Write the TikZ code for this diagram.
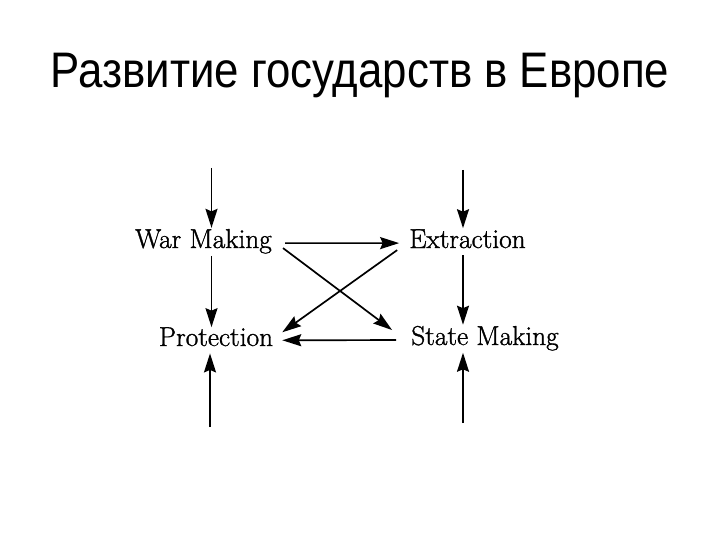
\documentclass[tikz,border=0pt]{standalone}
\usepackage{fontspec}
\setmainfont{Latin Modern Roman}
\newfontfamily\titlefont{Liberation Sans}
\newfontfamily\diagfont[FakeBold=1.2]{Latin Modern Roman}
\usetikzlibrary{arrows.meta}
\begin{document}
\begin{tikzpicture}[x=1pt,y=-1pt,
  lbl/.style={inner sep=0pt,anchor=base,font=\diagfont\fontsize{27.3}{32}\selectfont},
  arr/.style={line width=1.7pt,-{Stealth[length=19pt,width=12pt,inset=2.5pt]}}]
\useasboundingbox (0,0) rectangle (720,540);
\node[inner sep=0pt,anchor=base,yscale=1.14,font=\titlefont\fontsize{43.8}{50}\selectfont] (title) at (360,88) {Развитие государств в Европе};
\node[lbl] (wm) at (203.5,248) {War Making};
\node[lbl] (ex) at (467.5,248) {Extraction};
\node[lbl] (pr) at (216,346) {Protection};
\node[lbl] (sm) at (485,345) {State Making};
\coordinate (tl) at (211.5,168);
\coordinate (tr) at (463,170);
\coordinate (bl) at (210,427);
\coordinate (br) at (463,423);
% vertical arrows
\draw[arr] (tl) -- ([yshift=1pt]tl |- wm.north);
\draw[arr] (tr) -- ([yshift=1pt]tr |- ex.north);
\draw[arr] ([yshift=-2pt]tl |- wm.south) -- ([yshift=0pt]tl |- pr.north);
\draw[arr] ([yshift=-7pt]tr |- ex.south) -- ([yshift=1pt]tr |- sm.north);
\draw[arr] (bl) -- ([yshift=-7pt]bl |- pr.south);
\draw[arr] (br) -- ([yshift=-2pt]br |- sm.south);
% horizontal arrows
\draw[arr] ([shift={(13,1.8)}]wm.east) -- ([shift={(-10,4.3)}]ex.west);
\draw[arr] ([shift={(-15,1.8)}]sm.west) -- ([shift={(9,3.5)}]pr.east);
% diagonals
\draw[arr] ([shift={(11,6.8)}]wm.east) -- ([shift={(-19,-8.2)}]sm.west);
\draw[arr] ([shift={(-12,11.3)}]ex.west) -- ([shift={(9,-4.5)}]pr.east);
\end{tikzpicture}
\end{document}
